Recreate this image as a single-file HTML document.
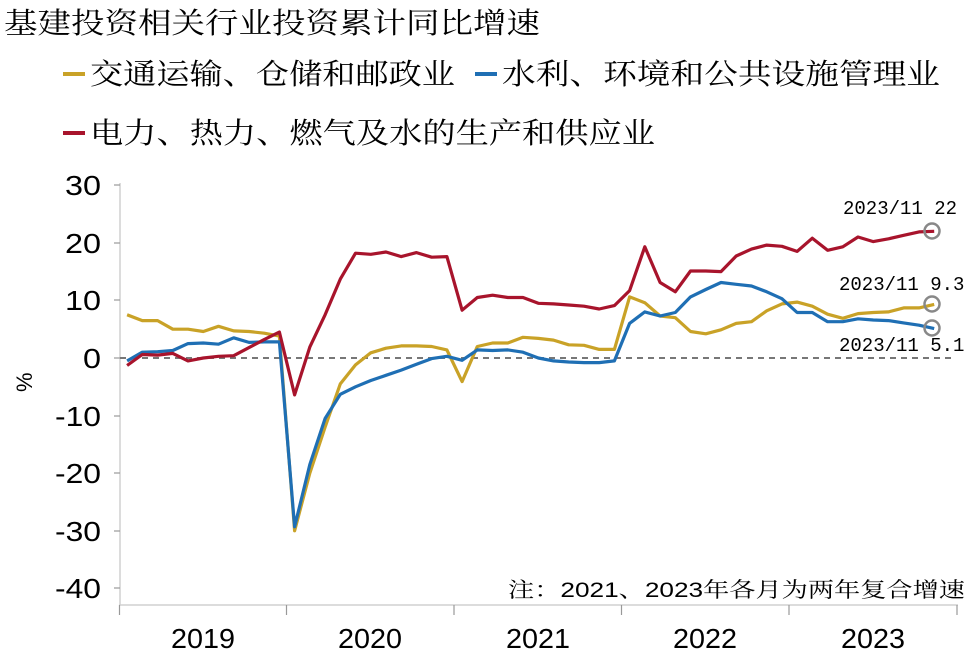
<!DOCTYPE html>
<html><head><meta charset="utf-8"><style>
body{margin:0;background:#fff}
svg{display:block}
.cn{font-family:"Liberation Sans","Noto Serif CJK SC",serif}
</style></head><body>
<svg width="970" height="655" viewBox="0 0 970 655" xmlns="http://www.w3.org/2000/svg">
<text x="4" y="33" font-size="29" font-family="'Liberation Serif','Noto Serif CJK SC',serif" fill="#000" textLength="536" lengthAdjust="spacingAndGlyphs">基建投资相关行业投资累计同比增速</text>
<line x1="63" y1="74" x2="85" y2="74" stroke="#C9A227" stroke-width="4"/>
<text x="90" y="84" font-size="29" class="cn" fill="#000" textLength="365" lengthAdjust="spacingAndGlyphs">交通运输、仓储和邮政业</text>
<line x1="475" y1="74" x2="497" y2="74" stroke="#1F6FB4" stroke-width="4"/>
<text x="502" y="84" font-size="29" class="cn" fill="#000" textLength="438" lengthAdjust="spacingAndGlyphs">水利、环境和公共设施管理业</text>
<line x1="63" y1="133" x2="85" y2="133" stroke="#A8142C" stroke-width="4"/>
<text x="90" y="143" font-size="29" class="cn" fill="#000" textLength="565" lengthAdjust="spacingAndGlyphs">电力、热力、燃气及水的生产和供应业</text>

<g stroke="#d0d0d0" stroke-width="1.5">
<line x1="120" y1="183" x2="120" y2="605"/>
<line x1="119" y1="605" x2="958" y2="605"/>
</g>
<g stroke="#999" stroke-width="1.2">
<line x1="114" y1="185" x2="120" y2="185"/><line x1="114" y1="243" x2="120" y2="243"/><line x1="114" y1="300" x2="120" y2="300"/><line x1="114" y1="358" x2="120" y2="358"/><line x1="114" y1="416" x2="120" y2="416"/><line x1="114" y1="473" x2="120" y2="473"/><line x1="114" y1="531" x2="120" y2="531"/><line x1="114" y1="588" x2="120" y2="588"/>
<line x1="119.5" y1="605" x2="119.5" y2="615"/><line x1="286.5" y1="605" x2="286.5" y2="615"/><line x1="454" y1="605" x2="454" y2="615"/><line x1="621.5" y1="605" x2="621.5" y2="615"/><line x1="789" y1="605" x2="789" y2="615"/><line x1="957" y1="605" x2="957" y2="615"/>
</g>
<g font-family="'Liberation Sans',sans-serif" font-size="28" text-anchor="end" fill="#000">
<text x="101" y="195" textLength="36" lengthAdjust="spacingAndGlyphs">30</text>
<text x="101" y="253" textLength="36" lengthAdjust="spacingAndGlyphs">20</text>
<text x="101" y="310" textLength="36" lengthAdjust="spacingAndGlyphs">10</text>
<text x="101" y="368" textLength="18" lengthAdjust="spacingAndGlyphs">0</text>
<text x="101" y="426" textLength="46" lengthAdjust="spacingAndGlyphs">-10</text>
<text x="101" y="483" textLength="46" lengthAdjust="spacingAndGlyphs">-20</text>
<text x="101" y="541" textLength="46" lengthAdjust="spacingAndGlyphs">-30</text>
<text x="101" y="598" textLength="46" lengthAdjust="spacingAndGlyphs">-40</text>
</g>
<text x="0" y="0" font-size="22" font-family="'Liberation Sans',sans-serif" transform="translate(32,392) rotate(-90)">%</text>
<g font-family="'Liberation Sans',sans-serif" font-size="28" text-anchor="middle" fill="#000">
<text x="203" y="648" textLength="64" lengthAdjust="spacingAndGlyphs">2019</text>
<text x="370" y="648" textLength="64" lengthAdjust="spacingAndGlyphs">2020</text>
<text x="538" y="648" textLength="64" lengthAdjust="spacingAndGlyphs">2021</text>
<text x="705" y="648" textLength="64" lengthAdjust="spacingAndGlyphs">2022</text>
<text x="873" y="648" textLength="64" lengthAdjust="spacingAndGlyphs">2023</text>
</g>
<text x="965" y="597" font-size="21" text-anchor="end" class="cn" textLength="457" lengthAdjust="spacingAndGlyphs">注：2021、2023年各月为两年复合增速</text>

<line x1="120" y1="358" x2="955" y2="358" stroke="#777" stroke-width="2" stroke-dasharray="6,5"/>

<g fill="none" stroke-width="3.2" stroke-linejoin="round" id="lines"></g>

<g fill="none" stroke="#888" stroke-width="2.5">
<circle cx="932" cy="231" r="7.5"/><circle cx="932" cy="304" r="7.5"/><circle cx="932" cy="328" r="7.5"/>
</g>
<g font-family="'Liberation Mono','Liberation Sans',sans-serif" font-size="19" fill="#000">
<text x="843" y="214">2023/11 22</text>
<text x="839" y="290">2023/11 9.3</text>
<text x="839" y="351">2023/11 5.1</text>
</g>
<script>
const red=[-1.3,0.6,0.5,0.8,-0.5,0,0.3,0.4,1.8,3.2,4.5,
-6.4,1.9,7.5,13.7,18.2,18,18.4,17.6,18.3,17.5,17.6,
8.3,10.5,10.9,10.5,10.5,9.5,9.4,9.2,9.0,8.5,9.1,
11.7,19.3,13.1,11.5,15.1,15.1,15.0,17.7,18.9,19.6,19.4,
18.5,20.8,18.7,19.3,21,20.2,20.7,21.3,21.9,22];
const yel=[7.5,6.5,6.5,5,5,4.6,5.5,4.7,4.6,4.3,3.8,
-30,-20,-12,-4.5,-1.2,0.9,1.7,2.1,2.1,2.0,1.4,
-4.1,2.0,2.6,2.6,3.6,3.4,3.1,2.3,2.2,1.5,1.5,
10.6,9.6,7.3,7.0,4.6,4.2,4.9,6.0,6.3,8.2,9.4,
9.7,9.0,7.6,6.9,7.7,7.9,8.0,8.7,8.7,9.3];
const blu=[-0.5,1,1.1,1.3,2.5,2.6,2.4,3.5,2.7,2.8,2.8,
-29.3,-18.5,-10.5,-6.3,-5.0,-3.9,-3.0,-2.1,-1.1,-0.1,0.3,
-0.4,1.4,1.3,1.4,1.0,0,-0.5,-0.7,-0.8,-0.8,-0.5,
6.0,8.0,7.3,7.9,10.6,11.9,13.1,12.8,12.5,11.5,10.3,
7.9,7.9,6.3,6.3,6.8,6.6,6.5,6.1,5.7,5.1];
function pts(a){return a.map((v,i)=>{const yr=Math.floor(i/11),j=i%11;const x=119.5+yr*167.5+(j+0.5)*15.23;return x.toFixed(1)+','+(358-5.76*v).toFixed(1)}).join(' ')}
const g=document.getElementById('lines');
[[yel,'#C9A227'],[blu,'#1F6FB4'],[red,'#A8142C']].forEach(([a,c])=>{const p=document.createElementNS('http://www.w3.org/2000/svg','polyline');p.setAttribute('points',pts(a));p.setAttribute('stroke',c);g.appendChild(p)});
</script>
</svg>
</body></html>
